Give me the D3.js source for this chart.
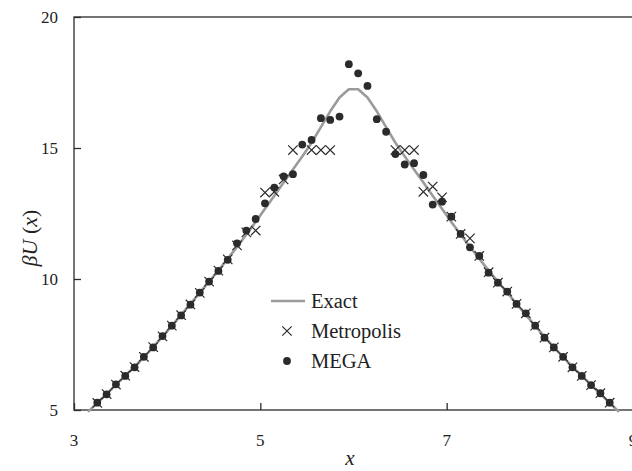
<!DOCTYPE html>
<html>
<head>
<meta charset="utf-8">
<script src="https://cdn.jsdelivr.net/npm/d3@7"></script>
<style>
  html, body { margin: 0; padding: 0; background: #fff; }
  svg text { font-family: 'Liberation Serif', 'DejaVu Serif', serif; fill: #222; }
</style>
</head>
<body>
<div id="chart"></div>
<script>
// Exact barrier profile
const exactX = [3.15, 3.25, 3.35, 3.45, 3.55, 3.65, 3.75, 3.85, 3.95, 4.05, 4.15, 4.25, 4.35, 4.45, 4.55, 4.65, 4.75, 4.85, 4.95, 5.05, 5.15, 5.25, 5.35, 5.45, 5.55, 5.65, 5.75, 5.85, 5.95,
  6.05, 6.15, 6.25, 6.35, 6.45, 6.55, 6.65, 6.75, 6.85, 6.95, 7.05, 7.15, 7.25, 7.35, 7.45, 7.55, 7.65, 7.75, 7.85, 7.95, 8.05, 8.15, 8.25, 8.35, 8.45, 8.55, 8.65, 8.75, 8.85];
const exactY = [4.93, 5.27, 5.61, 5.96, 6.31, 6.65, 7.02, 7.40, 7.80, 8.21, 8.63, 9.05, 9.48, 9.90, 10.32, 10.78, 11.22, 11.70, 12.18, 12.68, 13.18, 13.68, 14.18, 14.68, 15.20, 15.80, 16.40, 16.93, 17.24,
  17.24, 16.93, 16.40, 15.80, 15.20, 14.68, 14.18, 13.68, 13.18, 12.68, 12.18, 11.70, 11.22, 10.78, 10.32, 9.90, 9.48, 9.05, 8.63, 8.21, 7.80, 7.40, 7.02, 6.65, 6.31, 5.96, 5.61, 5.27, 4.93];

// Metropolis estimates (crosses)
const metroX = [3.25, 3.35, 3.45, 3.55, 3.65, 3.75, 3.85, 3.95, 4.05, 4.15, 4.25, 4.35, 4.45, 4.55, 4.65, 4.75, 4.85, 4.95, 5.05, 5.15, 5.25, 5.35,
  5.55, 5.65, 5.75, 6.45, 6.55, 6.65,
  6.75, 6.85, 6.95, 7.05, 7.15, 7.25, 7.35, 7.45, 7.55, 7.65, 7.75, 7.85, 7.95, 8.05, 8.15, 8.25, 8.35, 8.45, 8.55, 8.65, 8.75];
const metroY = [5.27, 5.61, 5.97, 6.31, 6.64, 7.03, 7.40, 7.81, 8.22, 8.62, 9.03, 9.47, 9.90, 10.32, 10.75, 11.28, 11.78, 11.85, 13.30, 13.33, 13.80, 14.92,
  14.92, 14.92, 14.92, 14.92, 14.92, 14.92,
  13.33, 13.53, 13.12, 12.38, 11.72, 11.55, 10.88, 10.26, 9.86, 9.52, 9.05, 8.69, 8.22, 7.76, 7.39, 7.03, 6.63, 6.30, 5.95, 5.64, 5.28];

// MEGA estimates (dots)
const megaX = [3.25, 3.35, 3.45, 3.55, 3.65, 3.75, 3.85, 3.95, 4.05, 4.15, 4.25, 4.35, 4.45, 4.55, 4.65, 4.75, 4.85, 4.95, 5.05, 5.15, 5.25, 5.35, 5.45, 5.55, 5.65, 5.75, 5.85, 5.95,
  6.05, 6.15, 6.25, 6.35, 6.45, 6.55, 6.65, 6.75, 6.85, 6.95, 7.05, 7.15, 7.25, 7.35, 7.45, 7.55, 7.65, 7.75, 7.85, 7.95, 8.05, 8.15, 8.25, 8.35, 8.45, 8.55, 8.65, 8.75];
const megaY = [5.28, 5.60, 5.98, 6.30, 6.63, 7.03, 7.39, 7.82, 8.22, 8.61, 9.02, 9.48, 9.90, 10.31, 10.73, 11.36, 11.85, 12.29, 12.89, 13.49, 13.92, 14.00, 15.13, 15.31, 16.14, 16.07, 16.20, 18.20,
  17.85, 17.37, 16.10, 15.62, 14.77, 14.37, 14.42, 13.97, 12.84, 12.95, 12.38, 11.72, 11.21, 10.88, 10.24, 9.86, 9.52, 9.05, 8.69, 8.22, 7.76, 7.39, 7.03, 6.63, 6.30, 5.95, 5.64, 5.28];

const xTicks = [3, 5, 7, 9];
const yTicks = [5, 10, 15, 20];
const legendLabels = ['Exact', 'Metropolis', 'MEGA'];

const W = 632, H = 471;
const plot = { left: 74, right: 633, top: 17, bottom: 410 };
const ink = '#2b2b2b';

const svg = d3.select('#chart').append('svg')
  .attr('width', W).attr('height', H);

const x = d3.scaleLinear().domain([3, 9]).range([plot.left, plot.right]);
const y = d3.scaleLinear().domain([5, 20]).range([plot.bottom, plot.top]);

// frame
svg.append('rect')
  .attr('x', plot.left).attr('y', plot.top)
  .attr('width', plot.right - plot.left).attr('height', plot.bottom - plot.top)
  .attr('fill', 'none').attr('stroke', ink).attr('stroke-width', 1.3);

// inward ticks, labels drawn separately
const xAxis = svg.append('g')
  .attr('transform', `translate(0,${plot.bottom})`)
  .call(d3.axisTop(x).tickValues(xTicks).tickSize(7).tickFormat(''));
const yAxis = svg.append('g')
  .attr('transform', `translate(${plot.left},0)`)
  .call(d3.axisRight(y).tickValues(yTicks).tickSize(7).tickFormat(''));
[xAxis, yAxis].forEach((g) => {
  g.select('.domain').remove();
  g.selectAll('line').attr('stroke', ink).attr('stroke-width', 1.3);
});

svg.selectAll('.xlab').data(xTicks).enter().append('text')
  .attr('class', 'xlab')
  .attr('x', (d) => x(d)).attr('y', 446)
  .attr('text-anchor', 'middle')
  .style('font-size', '17px')
  .text((d) => d);

svg.selectAll('.ylab').data(yTicks).enter().append('text')
  .attr('class', 'ylab')
  .attr('x', 58).attr('y', (d) => y(d) + 6)
  .attr('text-anchor', 'end')
  .style('font-size', '17px')
  .text((d) => d);

// axis titles
svg.append('text')
  .attr('x', 350).attr('y', 465)
  .attr('text-anchor', 'middle')
  .style('font-size', '21px').style('font-style', 'italic')
  .text('x');

const yTitle = svg.append('text')
  .attr('transform', 'translate(37,238) rotate(-90)')
  .attr('text-anchor', 'middle')
  .style('font-size', '22px');
yTitle.append('tspan').style('font-style', 'italic').text('βU');
yTitle.append('tspan').text(' (');
yTitle.append('tspan').style('font-style', 'italic').text('x');
yTitle.append('tspan').text(')');

// exact curve
const line = d3.line().x((d) => x(d[0])).y((d) => y(d[1]));
svg.append('path')
  .datum(d3.zip(exactX, exactY))
  .attr('d', line)
  .attr('fill', 'none')
  .attr('stroke', '#9b9b9b')
  .attr('stroke-width', 2.6)
  .attr('stroke-linejoin', 'round');

const crossPath = (cx, cy, s) =>
  `M${cx - s},${cy - s}L${cx + s},${cy + s}M${cx - s},${cy + s}L${cx + s},${cy - s}`;

svg.append('g').selectAll('path')
  .data(d3.zip(metroX, metroY))
  .enter().append('path')
  .attr('d', (d) => crossPath(x(d[0]), y(d[1]), 4.7))
  .attr('stroke', ink).attr('stroke-width', 1.2).attr('fill', 'none');

svg.append('g').selectAll('circle')
  .data(d3.zip(megaX, megaY))
  .enter().append('circle')
  .attr('cx', (d) => x(d[0])).attr('cy', (d) => y(d[1]))
  .attr('r', 3.9)
  .attr('fill', ink);

// legend
const legend = svg.append('g');
legend.append('line')
  .attr('x1', 271).attr('x2', 305).attr('y1', 301).attr('y2', 301)
  .attr('stroke', '#9b9b9b').attr('stroke-width', 2.6);
legend.append('path')
  .attr('d', crossPath(287, 331, 4.7))
  .attr('stroke', ink).attr('stroke-width', 1.2);
legend.append('circle')
  .attr('cx', 287).attr('cy', 361).attr('r', 3.9).attr('fill', ink);
legend.selectAll('text').data(legendLabels).enter().append('text')
  .attr('x', 311).attr('y', (d, i) => 308 + i * 30)
  .style('font-size', '20.5px')
  .text((d) => d);
</script>
</body>
</html>
